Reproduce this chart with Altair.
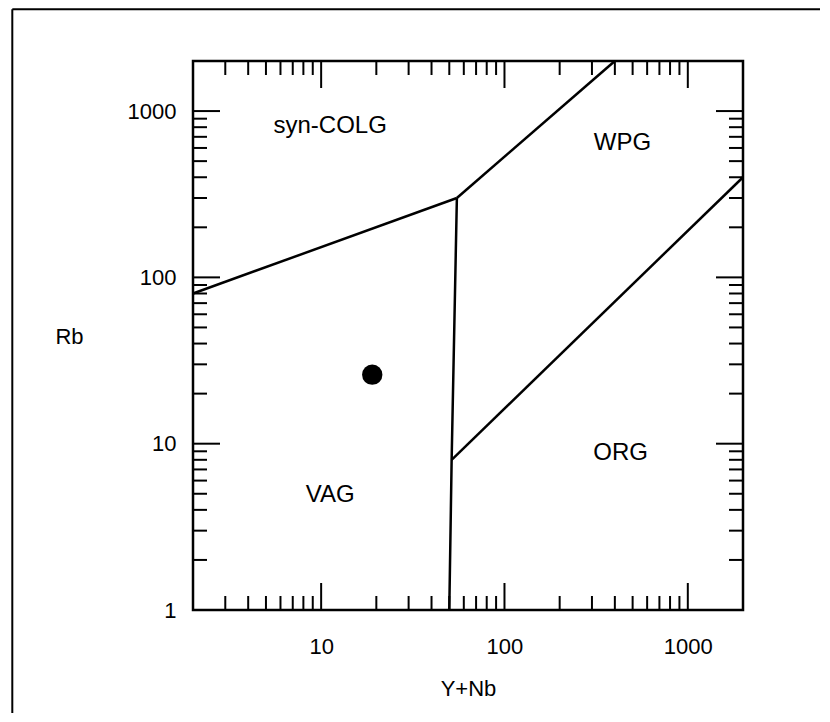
import altair as alt
import pandas as pd

# ---- data ----
seg_id = ["a", "a", "b", "b", "c", "c", "c", "d", "d"]
seg_x = [2, 55, 55, 400, 55, 51.5, 50, 51.5, 2000]
seg_y = [80, 300, 300, 2000, 300, 8, 1, 8, 400]

region_names = ["syn-COLG", "WPG", "VAG", "ORG"]
region_x = [11.2, 440, 11.2, 430]
region_y = [810, 640, 4.9, 8.75]

sample_x = [19]
sample_y = [26]

x_labels = [10, 100, 1000]
y_labels = [1, 10, 100, 1000]
x_major = [10, 100, 1000]
x_minor = [3, 4, 5, 6, 7, 8, 9, 20, 30, 40, 50, 60, 70, 80, 90,
           200, 300, 400, 500, 600, 700, 800, 900]
y_major = [10, 100, 1000]
y_minor = [2, 3, 4, 5, 6, 7, 8, 9, 20, 30, 40, 50, 60, 70, 80, 90,
           200, 300, 400, 500, 600, 700, 800, 900]

W, H = 550, 549
FONT = "Liberation Sans"
FS = 22
RFS = 24
MAJ, MIN = 27, 14

xscale = alt.Scale(type="log", domain=[2, 2000], nice=False)
yscale = alt.Scale(type="log", domain=[1, 2000], nice=False)

xaxis = alt.Axis(
    values=x_labels, format="d", ticks=False, domain=False, grid=False,
    labelFontSize=FS, labelFont=FONT, labelColor="black", labelPadding=26,
    title="Y+Nb", titleFont=FONT, titleFontSize=FS, titleFontWeight="normal",
    titleColor="black", titlePadding=21)
yaxis = alt.Axis(
    values=y_labels, format="d", ticks=False, domain=False, grid=False,
    labelFontSize=FS, labelFont=FONT, labelColor="black", labelPadding=17,
    title="Rb", titleFont=FONT, titleFontSize=FS, titleFontWeight="normal",
    titleColor="black", titleAngle=0, titleAlign="center", titleBaseline="middle",
    titleX=-124, titleY=275)

X = alt.X("x:Q", scale=xscale, axis=xaxis, title="Y+Nb")
Y = alt.Y("y:Q", scale=yscale, axis=yaxis, title="Rb")

seg_df = pd.DataFrame({"seg": seg_id, "x": seg_x, "y": seg_y, "i": list(range(len(seg_x)))})
reg_df = pd.DataFrame({"name": region_names, "x": region_x, "y": region_y})
pt_df = pd.DataFrame({"x": sample_x, "y": sample_y})
xmaj_df = pd.DataFrame({"x": x_major})
xmin_df = pd.DataFrame({"x": x_minor})
ymaj_df = pd.DataFrame({"y": y_major})
ymin_df = pd.DataFrame({"y": y_minor})
one = pd.DataFrame({"k": [0]})

lines = alt.Chart(seg_df).mark_line(color="black", strokeWidth=2.5).encode(
    x=X, y=Y, detail="seg:N", order="i:Q")

labels = alt.Chart(reg_df).mark_text(font=FONT, fontSize=RFS, color="black").encode(
    x=X, y=Y, text="name:N")

point = alt.Chart(pt_df).mark_circle(color="black", opacity=1, size=415).encode(
    x=X, y=Y)

def xticks(df, length):
    bottom = alt.Chart(df).mark_rule(color="black", strokeWidth=2).encode(
        x=X, y=alt.value(H), y2=alt.value(H - length))
    top = alt.Chart(df).mark_rule(color="black", strokeWidth=2).encode(
        x=X, y=alt.value(0), y2=alt.value(length))
    return [bottom, top]

def yticks(df, length):
    left = alt.Chart(df).mark_rule(color="black", strokeWidth=2).encode(
        y=Y, x=alt.value(0), x2=alt.value(length))
    right = alt.Chart(df).mark_rule(color="black", strokeWidth=2).encode(
        y=Y, x=alt.value(W), x2=alt.value(W - length))
    return [left, right]

frame_top = alt.Chart(one).mark_rule(color="black", strokeWidth=2).encode(
    x=alt.value(-180.7), x2=alt.value(627), y=alt.value(-51.7))
frame_left = alt.Chart(one).mark_rule(color="black", strokeWidth=2).encode(
    x=alt.value(-180.7), y=alt.value(-51.7), y2=alt.value(652))

layers = ([lines, labels, point] + xticks(xmaj_df, MAJ) + xticks(xmin_df, MIN)
          + yticks(ymaj_df, MAJ) + yticks(ymin_df, MIN) + [frame_top, frame_left])

chart = alt.layer(*layers).properties(
    width=W, height=H,
    padding={"left": 3, "top": 0, "right": 0, "bottom": 0},
    background="white",
).configure_view(stroke="black", strokeWidth=2.5)

chart.save("out.html", embed_options={"renderer": "svg", "actions": False})
